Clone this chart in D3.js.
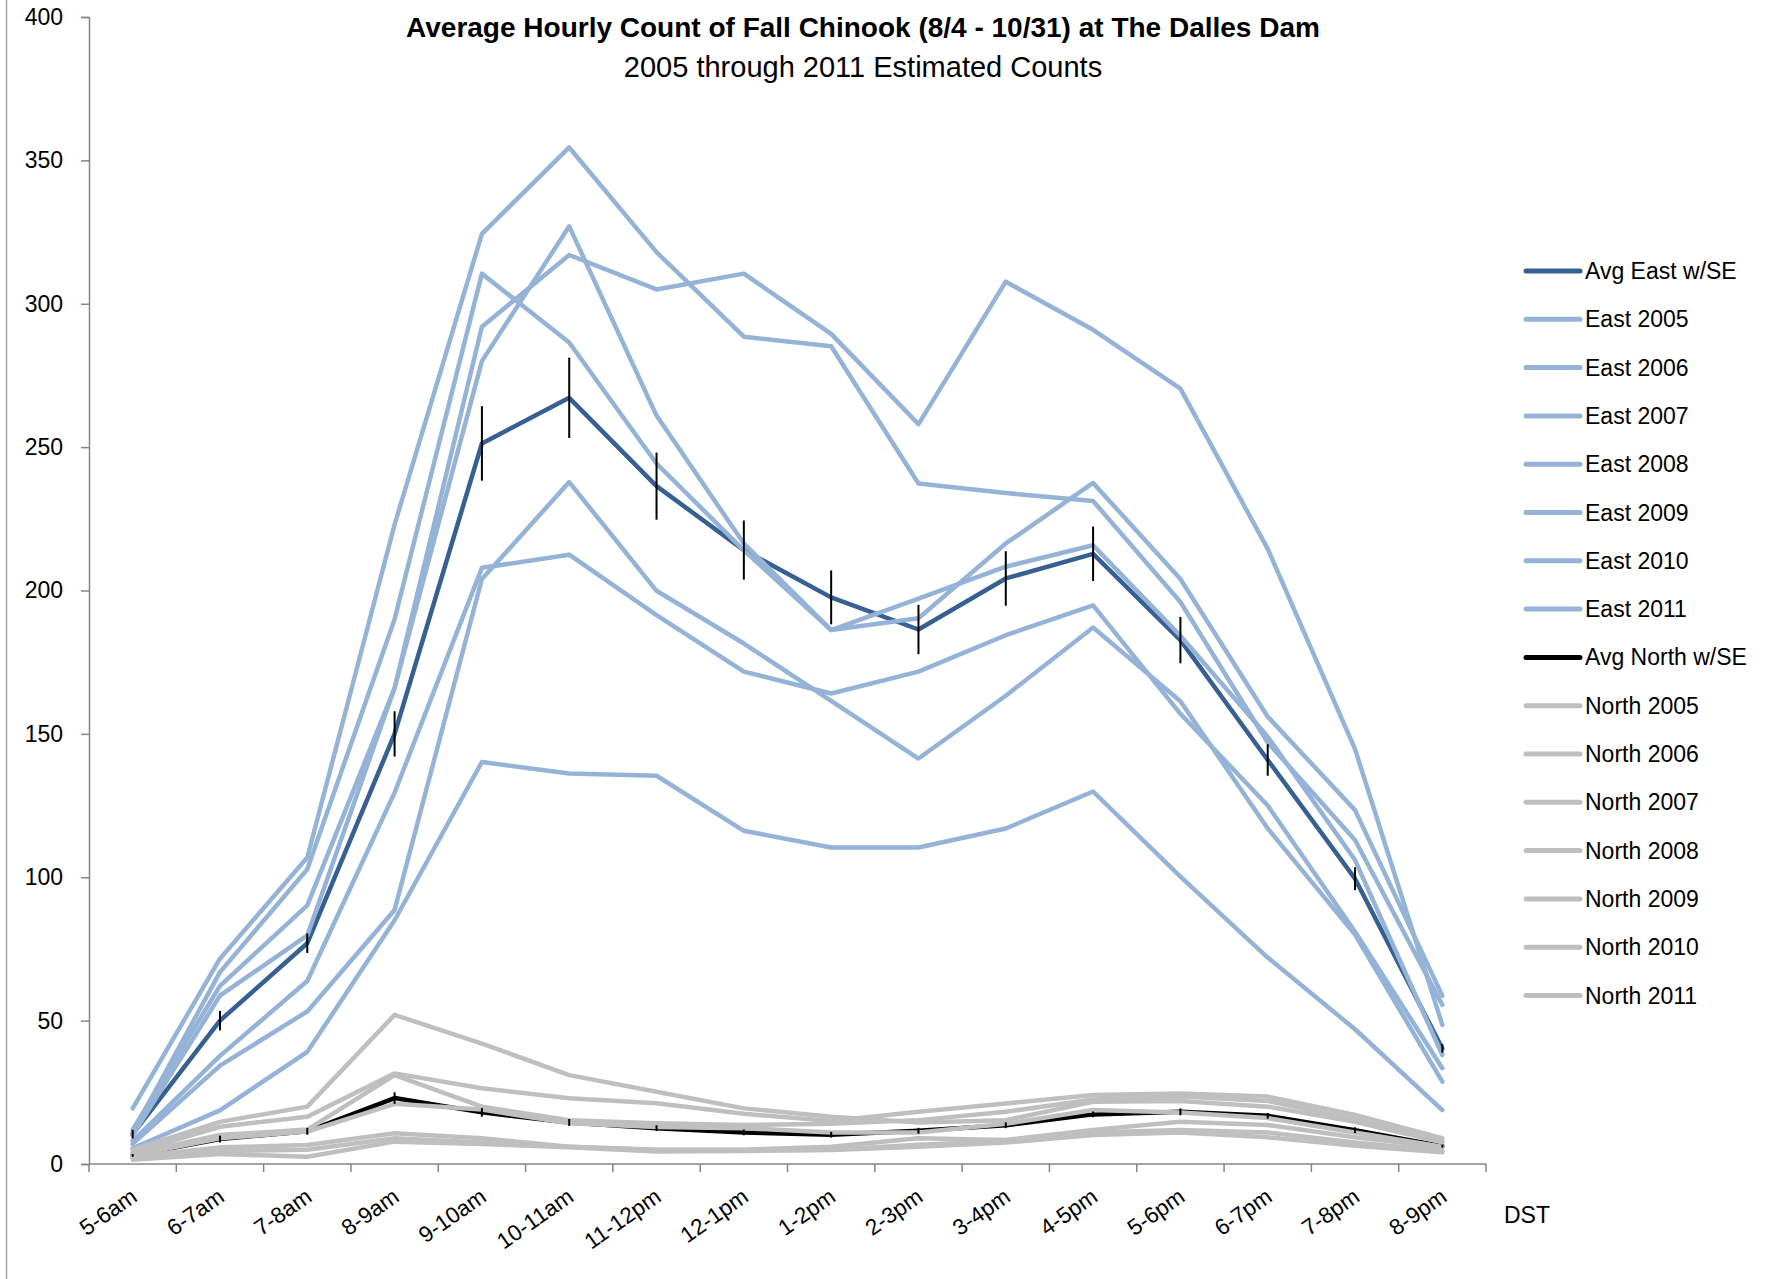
<!DOCTYPE html>
<html lang="en">
<head>
<meta charset="utf-8">
<style>
  body { margin: 0; background: #fff; }
  svg text { font-family: "Liberation Sans", Arial, sans-serif; fill: #000; }
</style>
</head>
<body>
<script src="https://d3js.org/d3.v7.min.js"></script>
<script>
// hourly categories (DST)
var hours = ['5-6am','6-7am','7-8am','8-9am','9-10am','10-11am','11-12pm','12-1pm',
             '1-2pm','2-3pm','3-4pm','4-5pm','5-6pm','6-7pm','7-8pm','8-9pm'];
var yTicks = [0, 50, 100, 150, 200, 250, 300, 350, 400];

// east ladder
var avgEast = [10.4, 50, 77, 150, 251.3, 267.2, 236.4, 214.1, 197.6, 186.4, 204.2, 212.8, 182.7, 140.9, 99.5, 40.3];
var seEast  = [1.5, 3.4, 3.4, 7.9, 13, 14, 11.7, 10.3, 9.4, 8.6, 9.5, 9.5, 8.1, 5.5, 4, 1.5];
var east2005 = [19.4, 71.6, 106.9, 223, 324.4, 354.5, 318, 288.5, 285.2, 237.3, 234, 231.2, 196, 147, 113, 55.5];
var east2006 = [12, 62.1, 90.2, 166, 292, 317, 305, 310.5, 289.5, 258, 307.7, 290.9, 270.4, 214.5, 144.7, 48.5];
var east2007 = [10, 58.7, 79.7, 166, 280, 327, 261, 216.4, 186.2, 190.3, 216.4, 237.5, 204, 156, 123.4, 58.7];
var east2008 = [11, 66.9, 102.8, 190, 310.5, 286.5, 244.3, 214, 186.2, 197.2, 208.3, 215.8, 184.2, 149, 106, 38];
var east2009 = [8, 37.7, 63.8, 129.5, 207.9, 212.5, 191.4, 171.7, 164.1, 171.7, 184.4, 194.8, 157, 125, 81, 33.4];
var east2010 = [7, 34.3, 53.2, 88.6, 204, 237.8, 199.9, 181.5, 161.5, 141.4, 163.3, 187.1, 161.4, 117, 80, 28.7];
var east2011 = [5.5, 18.7, 39.1, 85, 140.2, 136.2, 135.4, 116.2, 110.4, 110.4, 117, 129.9, 100.2, 72, 47, 18.8];

// north ladder
var avgNorth = [3, 8.7, 11.4, 23, 18, 14.5, 12.5, 11, 10.2, 11.6, 13.5, 17.3, 18.2, 16.8, 11.8, 6.2];
var seNorth  = [0.5, 1.2, 1.2, 2, 1.5, 1.2, 1, 1, 1, 1, 1, 1, 1.2, 1, 1, 0.5];
var north2005 = [5, 14.7, 20, 52, 42, 31, 25.2, 19.4, 16.5, 14.5, 15.3, 21.7, 22, 20, 14.7, 7.6];
var north2006 = [4, 13, 16.5, 31.6, 26.4, 22.9, 21.2, 17.5, 15, 18.2, 21.1, 24.1, 24.6, 23.5, 17.1, 9];
var north2007 = [3.5, 10.1, 12, 31, 20, 15.3, 14.2, 13.6, 14, 15.3, 18.2, 22.5, 23.5, 22, 15.5, 8];
var north2008 = [3, 9, 11.3, 21, 19, 14.2, 12.9, 12.5, 11, 11, 14, 18.8, 18, 16, 11, 6];
var north2009 = [2.5, 5.8, 6.6, 10.7, 9, 6, 5, 5, 6, 9, 8.4, 11.9, 14.7, 13.6, 9.3, 5.8];
var north2010 = [2, 4.5, 5, 9, 7.5, 6, 4.9, 4.9, 5, 6.7, 8, 11, 11.9, 11, 7.5, 4.5];
var north2011 = [1.5, 3.5, 2.5, 7.8, 7, 5.8, 4.4, 4.5, 4.9, 6, 7.5, 10.1, 11, 9.3, 6.4, 4.1];

var darkBlue = '#376092', lightBlue = '#95b3d7', gray = '#bfbfbf', axisCol = '#868686';

var series = [
  {name: 'Avg East w/SE', values: avgEast, color: darkBlue, se: seEast},
  {name: 'East 2005', values: east2005, color: lightBlue},
  {name: 'East 2006', values: east2006, color: lightBlue},
  {name: 'East 2007', values: east2007, color: lightBlue},
  {name: 'East 2008', values: east2008, color: lightBlue},
  {name: 'East 2009', values: east2009, color: lightBlue},
  {name: 'East 2010', values: east2010, color: lightBlue},
  {name: 'East 2011', values: east2011, color: lightBlue},
  {name: 'Avg North w/SE', values: avgNorth, color: '#000', se: seNorth},
  {name: 'North 2005', values: north2005, color: gray},
  {name: 'North 2006', values: north2006, color: gray},
  {name: 'North 2007', values: north2007, color: gray},
  {name: 'North 2008', values: north2008, color: gray},
  {name: 'North 2009', values: north2009, color: gray},
  {name: 'North 2010', values: north2010, color: gray},
  {name: 'North 2011', values: north2011, color: gray}
];

var W = 1779, H = 1279;
var plot = {left: 89, right: 1486, top: 17, bottom: 1164};

var svg = d3.select('body').append('svg')
    .attr('width', W)
    .attr('height', H);

// thin frame edge on the left of the chart area
svg.append('line')
    .attr('x1', 6.5).attr('x2', 6.5).attr('y1', 0).attr('y2', H)
    .attr('stroke', '#a6a6a6').attr('stroke-width', 1.5);

var x = d3.scaleBand().domain(hours).range([plot.left, plot.right]).padding(0);
var y = d3.scaleLinear().domain([0, 400]).range([plot.bottom, plot.top]);
var cx = function(h) { return x(h) + x.bandwidth() / 2; };

// title
svg.append('text')
    .attr('x', 863).attr('y', 37)
    .attr('text-anchor', 'middle')
    .attr('font-size', 28).attr('font-weight', 'bold')
    .text('Average Hourly Count of Fall Chinook (8/4 - 10/31) at The Dalles Dam');
svg.append('text')
    .attr('x', 863).attr('y', 77)
    .attr('text-anchor', 'middle')
    .attr('font-size', 29)
    .text('2005 through 2011 Estimated Counts');

// y axis
var yAxis = svg.append('g')
    .attr('transform', 'translate(' + plot.left + ',0)')
    .call(d3.axisLeft(y).tickValues(yTicks).tickSize(8).tickPadding(18));
yAxis.select('.domain').attr('stroke', axisCol).attr('stroke-width', 1.5);
yAxis.selectAll('.tick line').attr('stroke', axisCol).attr('stroke-width', 1.5);
yAxis.selectAll('.tick text')
    .attr('font-size', 23)
    .attr('font-family', '"Liberation Sans", Arial, sans-serif')
    .attr('fill', '#000');

// x axis: ticks between categories
var xg = svg.append('g');
xg.append('line')
    .attr('x1', plot.left).attr('x2', plot.right)
    .attr('y1', plot.bottom).attr('y2', plot.bottom)
    .attr('stroke', axisCol).attr('stroke-width', 1.5);
var bounds = hours.map(function(h) { return x(h); }).concat([plot.right]);
xg.selectAll('line.xt')
    .data(bounds)
    .enter().append('line')
    .attr('class', 'xt')
    .attr('x1', d => d).attr('x2', d => d)
    .attr('y1', plot.bottom).attr('y2', plot.bottom + 8)
    .attr('stroke', axisCol).attr('stroke-width', 1.5);
xg.selectAll('text.xl')
    .data(hours)
    .enter().append('text')
    .attr('class', 'xl')
    .attr('text-anchor', 'end')
    .attr('font-size', 22.5)
    .attr('transform', d => 'translate(' + (cx(d) + 6) + ',' + (plot.bottom + 36) + ') rotate(-35)')
    .text(d => d);
svg.append('text')
    .attr('x', 1504).attr('y', 1223)
    .attr('font-size', 23)
    .text('DST');

// lines, drawn in legend order so later series sit on top
var line = d3.line()
    .x((d, i) => cx(hours[i]))
    .y(d => y(d));

svg.append('g').selectAll('path')
    .data(series)
    .enter().append('path')
    .attr('d', d => line(d.values))
    .attr('fill', 'none')
    .attr('stroke', d => d.color)
    .attr('stroke-width', 4.5)
    .attr('stroke-linejoin', 'round')
    .attr('stroke-linecap', 'round');

// standard error bars (no caps)
series.filter(d => d.se).forEach(function(s) {
    svg.append('g').selectAll('line')
        .data(s.values)
        .enter().append('line')
        .attr('x1', (d, i) => cx(hours[i]))
        .attr('x2', (d, i) => cx(hours[i]))
        .attr('y1', (d, i) => y(d + s.se[i]))
        .attr('y2', (d, i) => y(d - s.se[i]))
        .attr('stroke', '#000')
        .attr('stroke-width', 2);
});

// legend
var legend = svg.append('g')
    .selectAll('g')
    .data(series)
    .enter().append('g')
    .attr('transform', (d, i) => 'translate(1526,' + (271 + i * 48.3) + ')');
legend.append('line')
    .attr('x1', 0).attr('x2', 54)
    .attr('stroke', d => d.color)
    .attr('stroke-width', 5)
    .attr('stroke-linecap', 'round');
legend.append('text')
    .attr('x', 59)
    .attr('y', 8)
    .attr('font-size', 23)
    .text(d => d.name);
</script>
</body>
</html>
